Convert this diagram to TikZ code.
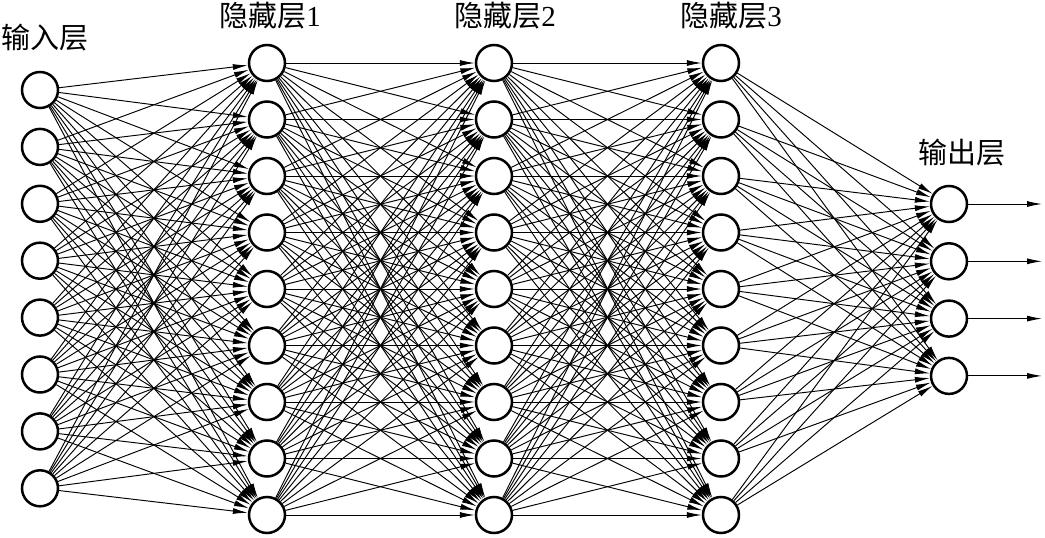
\documentclass[tikz,border=0pt]{standalone}
\usepackage{fontspec}
\setmainfont{Liberation Serif}
\newfontfamily\cjk{Noto Sans CJK SC}
\usetikzlibrary{arrows.meta}

\begin{document}
\begin{tikzpicture}[x=1pt, y=-1pt,
    neuron/.style={shape=circle, draw, line width=2.5pt, fill=white, minimum size=36pt, inner sep=0pt},
    link/.style={draw, line width=0.95pt, -{Latex[length=15pt, width=6pt]}},
    title/.style={inner sep=0pt, font=\fontsize{29}{30}\selectfont}]

    \useasboundingbox (0,0) rectangle (1045,538);

    \node at (45, 38) (Tin) [title] {\cjk 输入层};
    \node at (270, 16) (TA) [title] {{\cjk 隐藏层}1};
    \node at (505, 16) (TB) [title] {{\cjk 隐藏层}2};
    \node at (731, 16) (TC) [title] {{\cjk 隐藏层}3};
    \node at (962, 153) (Tout) [title] {\cjk 输出层};

    \foreach \i in {1,...,8}
        \node at (40, {90+(\i-1)*56.9}) (I\i) [neuron] {}; % input
    \foreach \i in {1,...,9} {
        \node at (267, {63+(\i-1)*56.5}) (A\i) [neuron] {};
        \node at (494, {63+(\i-1)*56.5}) (B\i) [neuron] {};
        \node at (721, {63+(\i-1)*56.5}) (C\i) [neuron] {};
    }
    \foreach \i in {1,...,4} {
        \node at (949, {204+(\i-1)*57.3}) (O\i) [neuron] {}; % output
        \coordinate (E\i) at (1042, {204+(\i-1)*57.3});
    }

    \foreach \i in {1,...,8}
        \foreach \j in {1,...,9}
            \path[link] (I\i) -- (A\j);
    \foreach \i in {1,...,9}
        \foreach \j in {1,...,9} {
            \path[link] (A\i) -- (B\j);
            \path[link] (B\i) -- (C\j);
        }
    \foreach \i in {1,...,9}
        \foreach \j in {1,...,4}
            \path[link] (C\i) -- (O\j);
    \foreach \i in {1,...,4}
        \path[link] (O\i) -- (E\i);

\end{tikzpicture}
\end{document}
